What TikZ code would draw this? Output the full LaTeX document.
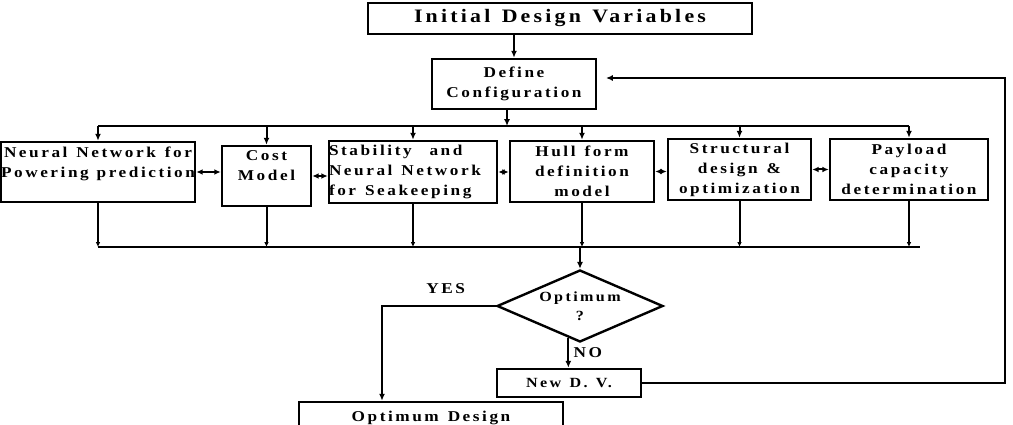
\documentclass[tikz,border=0pt]{standalone}
\usepackage{fontspec}
\setmainfont{Liberation Serif}[FakeStretch=1.15,LetterSpace=17,WordSpace=1.3]
\usetikzlibrary{arrows.meta,shapes.geometric}
\newcommand\labelfont[2]{\bfseries\fontsize{#1}{#2}\selectfont}

\begin{document}
\begin{tikzpicture}[
    x=1pt, y=-1pt,
    every node/.style={font=\labelfont{15}{20}},
    box/.style={draw, line width=2.6pt, align=flush center, inner sep=0pt},
    decision/.style={draw, diamond, aspect=2.3, line width=2.4pt, align=flush center, inner sep=0pt, minimum width=166pt, minimum height=72pt},
    flow/.style={-{Latex[length=2.4mm,width=2.1mm]}, line width=2pt},
    tick/.style={-{Latex[length=1.7mm,width=1.6mm]}, line width=2pt},
    link/.style={{Latex[length=2.2mm,width=2mm]}-{Latex[length=2.2mm,width=2mm]}, line width=2pt},
    bus/.style={line width=2pt}
]
\useasboundingbox (0,0) rectangle (1013,425);
\node[box, text width=384pt, minimum height=31pt, font=\labelfont{19}{22}] (init) at (560,18.5) {Initial Design Variables};
\node[box, text width=164pt, minimum height=50pt] (define) at (514,84) {Define\\Configuration};
\node[box, text width=194pt, minimum height=60pt] (nn) at (98,172) {Neural Network for\\Powering prediction\\ \mbox{}};
\node[box, text width=89pt, minimum height=60pt] (cost) at (266.5,176) {Cost\\Model\\ \mbox{}};
\node[box, text width=168pt, minimum height=62pt, align=flush left] (stab) at (413,172) {Stability\ \ and\\Neural Network\\for Seakeeping};
\node[box, text width=144pt, minimum height=61pt] (hull) at (582,171.5) {Hull form\\definition\\model};
\node[box, text width=143pt, minimum height=61pt] (struct) at (739.5,169.5) {Structural\\design \&\\optimization};
\node[box, text width=158pt, minimum height=61pt] (pay) at (909,169.5) {Payload\\capacity\\determination};
\node[decision, font=\labelfont{14}{19}] (opt) at (580,306) {Optimum\\?};
\node[box, text width=144pt, minimum height=28pt, font=\labelfont{14}{18}] (newdv) at (569,383) {New D. V.};
\node[box, text width=264pt, minimum height=32pt] (optdes) at (431,418) {Optimum Design};

\coordinate (topbus) at (507,126);
\coordinate (lowbus) at (575,247);
\coordinate (lowend) at (920,247);
\coordinate (fbturn) at (1005,78);
\coordinate (fbend) at (606,78);

% top part
\draw[flow] (define.north |- init.south) -- (define.north);
\draw[flow] (define.south -| topbus) -- (topbus);
\draw[bus] (nn.north |- topbus) -- (pay.north |- topbus);
\foreach \n in {nn,cost,stab,hull,struct,pay}
    \draw[flow] (\n.north |- topbus) -- (\n.north);
\foreach \a/\b in {nn/cost,cost/stab,stab/hull,hull/struct,struct/pay}
    \draw[link] (\a.east) -- (\a.east -| \b.west);

% collect results
\foreach \n in {nn,cost,stab,hull,struct,pay}
    \draw[tick] (\n.south) -- (\n.south |- lowbus);
\draw[bus] (nn.south |- lowbus) -- (lowend);
\draw[flow] (opt.north |- lowbus) -- (opt.north);

% decision
\draw[flow] (opt.west) -| ([xshift=-49pt]optdes.north) node[pos=0.22, above=8pt] {YES};
\draw[flow] (opt.250) -- (opt.250 |- newdv.north) node[midway, right=1pt] {NO};
\draw[flow] (newdv.east) -| (fbturn) -- (fbend);
\end{tikzpicture}
\end{document}
